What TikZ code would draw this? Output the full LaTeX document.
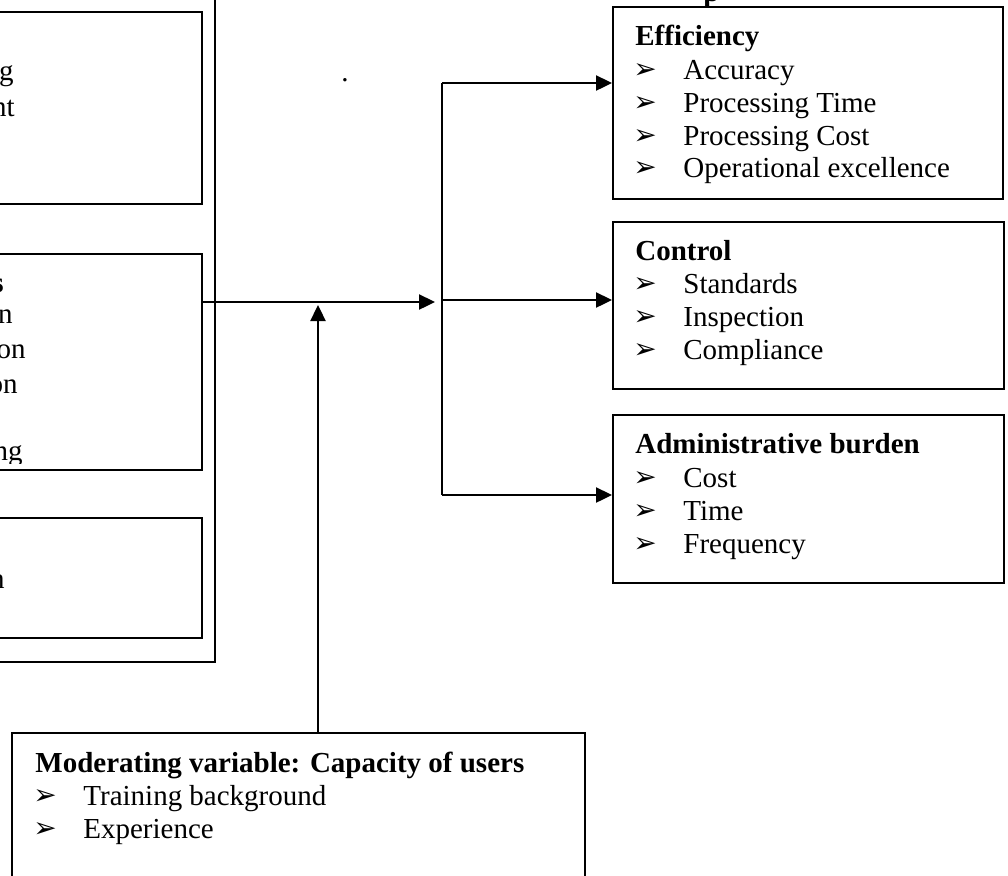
\documentclass[tikz,border=0pt]{standalone}
\usepackage{fontspec}
\setmainfont{Liberation Serif}
\newfontfamily\bulletfont{DejaVu Sans}
\usetikzlibrary{arrows.meta,fit}
\begin{document}
\begin{tikzpicture}[x=0.5pt,y=-0.5pt,
  box/.style={draw, line width=1pt, inner sep=0pt},
  txt/.style={anchor=base west, inner sep=0pt, font=\fontsize{14.5}{16}\selectfont},
  head/.style={anchor=base west, inner sep=0pt, font=\fontsize{14.5}{16}\selectfont\bfseries},
  frag/.style={anchor=base east, inner sep=0pt, font=\fontsize{14.5}{16}\selectfont},
  boldfrag/.style={anchor=base east, inner sep=0pt, font=\fontsize{14.5}{16}\selectfont\bfseries},
  bul/.style={anchor=base west, inner sep=0pt, font=\bulletfont\fontsize{14}{16}\selectfont},
  conn/.style={line width=1.2pt},
  arr/.style={conn, -{Triangle[length=8pt,width=7.5pt]}}]
\useasboundingbox (0,0) rectangle (1008,875);
\clip (0,0) rectangle (1008,875);

% left boxes (cropped)
\node[box, fit={(-20,-20) (215,662)}] (outer) {};
\node[box, fit={(-20,12) (202,204)}] (inA) {};
\node[box, fit={(-20,254) (202,470)}] (inB) {};
\node[box, fit={(-20,518) (202,638)}] (inC) {};

\node[frag] (fa1) at (14,80) {g};
\node[frag] (fa2) at (15,116) {nt};
\node[boldfrag] (fb0) at (4,292) {s};
\node[frag] (fb1) at (13,323) {n};
\node[frag] (fb2) at (26,358) {on};
\node[frag] (fb3) at (18,393) {on};
\begin{scope}
  \clip (0,440) rectangle (202,463);
  \node[frag] (fb5) at (23,460) {ng};
\end{scope}
\node[frag] (fc1) at (5,588) {n};

% stray dot and cropped heading fragment
\node[txt] (dot) at (341,81) {.};
\node[head] (ptop) at (703,1) {p};

% right boxes
\node[box, fit={(613,7) (1003,199)}] (eff) {};
\node[box, fit={(613,222) (1004,389)}] (ctl) {};
\node[box, fit={(613,415) (1004,583)}] (adm) {};

\node[head] (effh) at (635,45) {Efficiency};
\node[bul] at (633,78) {➢}; \node[txt] (e1) at (683,79) {Accuracy};
\node[bul] at (633,111) {➢}; \node[txt] (e2) at (683,112) {Processing Time};
\node[bul] at (633,144) {➢}; \node[txt] (e3) at (683,145) {Processing Cost};
\node[bul] at (633,176) {➢}; \node[txt] (e4) at (683,177) {Operational excellence};

\node[head] (ctlh) at (635,260) {Control};
\node[bul] at (633,292) {➢}; \node[txt] (c1) at (683,293) {Standards};
\node[bul] at (633,325) {➢}; \node[txt] (c2) at (683,326) {Inspection};
\node[bul] at (633,358) {➢}; \node[txt] (c3) at (683,359) {Compliance};

\node[head] (admh) at (635,453) {Administrative burden};
\node[bul] at (633,486) {➢}; \node[txt] (a1) at (683,487) {Cost};
\node[bul] at (633,519) {➢}; \node[txt] (a2) at (683,520) {Time};
\node[bul] at (633,552) {➢}; \node[txt] (a3) at (683,553) {Frequency};

% moderating box
\node[box, fit={(12,733) (585,900)}] (mod) {};
\node[head] (modh) at (35,772) {Moderating variable: Capacity of users};
\node[bul] at (33,804) {➢}; \node[txt] (m1) at (83,805) {Training background};
\node[bul] at (33,837) {➢}; \node[txt] (m2) at (83,838) {Experience};

% connectors
\coordinate (tipIn) at (435,302);
\coordinate (hubT) at (442,83);
\coordinate (hubM) at (442,300);
\coordinate (hubB) at (442,495);
\coordinate (modTop) at (318,733);
\coordinate (modTip) at (318,305);

\draw[arr] (inB.east |- tipIn) -- (tipIn);
\draw[conn] (hubT) -- (hubB);
\draw[arr] (hubT) -- (hubT -| eff.west);
\draw[arr] (hubM) -- (hubM -| ctl.west);
\draw[arr] (hubB) -- (hubB -| adm.west);
\draw[arr] (modTop) -- (modTip);
\end{tikzpicture}
\end{document}
